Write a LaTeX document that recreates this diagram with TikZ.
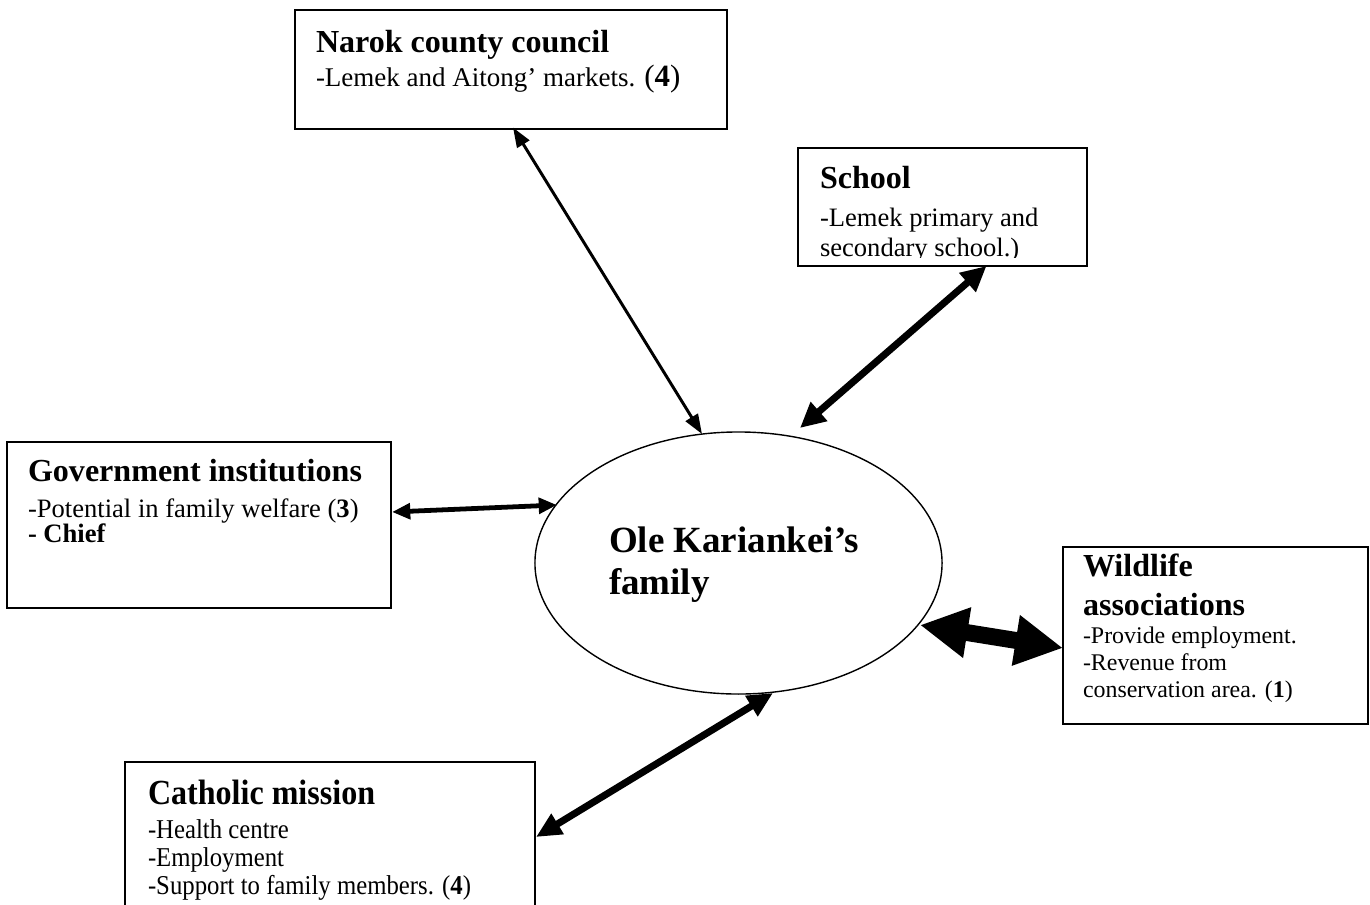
\documentclass[tikz,border=0pt]{standalone}
\usepackage{fontspec}
\setmainfont{Liberation Serif}
\usetikzlibrary{arrows.meta,calc,shapes.geometric}
\newcommand{\tallfont}[1]{\scalebox{1}[1.1]{#1}}
\begin{document}
\begin{tikzpicture}[x=0.025cm,y=-0.025cm,
  card/.style={draw,line width=1.4pt,inner sep=0pt,outer sep=0pt},
  txt/.style={anchor=base west,inner sep=0pt,outer sep=0pt},
  hd/.style={txt,font=\fontsize{22.8}{26}\selectfont\bfseries},
  bd/.style={txt,font=\fontsize{18.9}{22}\selectfont},
  small/.style={txt,font=\fontsize{17}{20}\selectfont},
  cbd/.style={txt,font=\fontsize{17.6}{21}\selectfont},
  link/.style n args={3}{line width=#1,
    arrows={Triangle[length=#2,width=#3]-Triangle[length=#2,width=#3]}}]
\useasboundingbox (0,0) rectangle (1370,904);
\clip (0,0) rectangle (1370,904);

% central family ellipse
\node (ell) [ellipse,draw,line width=1pt,inner sep=0pt,outer sep=0pt,
  minimum width=10.175cm,minimum height=6.55cm] at (738.5,563) {};
\node (ellA) [hd,font=\fontsize{26.3}{30}\selectfont\bfseries] at (609,552) {Ole Kariankei’s};
\node (ellB) [hd,font=\fontsize{26.3}{30}\selectfont\bfseries] at (609,594) {family};

% Narok county council
\node (narok) [card,minimum width=10.8cm,minimum height=2.975cm] at (511,69.5) {};
\node (narokA) [hd] at (316,52) {Narok county council};
\node (narokB) [bd,font=\fontsize{19.2}{22}\selectfont] at (316,86)
  {-Lemek and Aitong’ markets. {\fontsize{22}{26}\selectfont(\textbf{4})}};

% School
\node (school) [card,minimum width=7.225cm,minimum height=2.95cm] at (942.5,207) {};
\node (schoolA) [hd] at (820,188) {School};
\node (schoolB) [bd] at (820,226) {-Lemek primary and};
\begin{scope}
  \clip (school.north west) rectangle ($(school.south east)+(0,-9)$);
  \node (schoolC) [bd] at (820,256) {secondary school.)};
\end{scope}

% Government institutions
\node (gov) [card,minimum width=9.6cm,minimum height=4.15cm] at (199,525) {};
\node (govA) [hd] at (28,481) {Government institutions};
\node (govB) [bd] at (28,517) {-Potential in family welfare (\textbf{3})};
\node (govC) [bd,font=\fontsize{18.9}{22}\selectfont\bfseries] at (28,542) {- Chief};

% Wildlife associations
\node (wild) [card,minimum width=7.625cm,minimum height=4.425cm] at (1215.5,635.5) {};
\node (wildA) [hd] at (1083,576) {Wildlife};
\node (wildB) [hd] at (1083,615) {associations};
\node (wildC) [small] at (1083,643) {-Provide employment.};
\node (wildD) [small] at (1083,670) {-Revenue from};
\node (wildE) [small] at (1083,697) {conservation area. (\textbf{1})};

% Catholic mission
\node (cath) [card,minimum width=10.25cm,minimum height=4.2cm] at (330,846) {};
\node (cathA) [hd] at (148,804) {\tallfont{Catholic mission}};
\node (cathB) [cbd] at (148,838) {\tallfont{-Health centre}};
\node (cathC) [cbd] at (148,866) {\tallfont{-Employment}};
\node (cathD) [cbd] at (148,894) {\tallfont{-Support to family members. (\textbf{4})}};

% two-way links between the family and each institution
\draw[link={2.1pt}{14pt}{10pt}] ([shift={(2,58)}]narok.center) -- ([shift={(-36.5,-129)}]ell.center);
\draw[link={5pt}{18pt}{17pt}] ([shift={(44,59)}]school.center) -- ([shift={(61.5,-135)}]ell.center);
\draw[link={3.4pt}{13pt}{11pt}] ([shift={(193,-13)}]gov.center) -- ([shift={(-181.5,-58)}]ell.center);
\draw[link={12pt}{34pt}{34pt}] ([shift={(-152.5,12.5)}]wild.center) -- ([shift={(181.5,62)}]ell.center);
\draw[link={5pt}{18pt}{16pt}] ([shift={(206,-9)}]cath.center) -- ([shift={(34.5,130)}]ell.center);
\end{tikzpicture}
\end{document}
